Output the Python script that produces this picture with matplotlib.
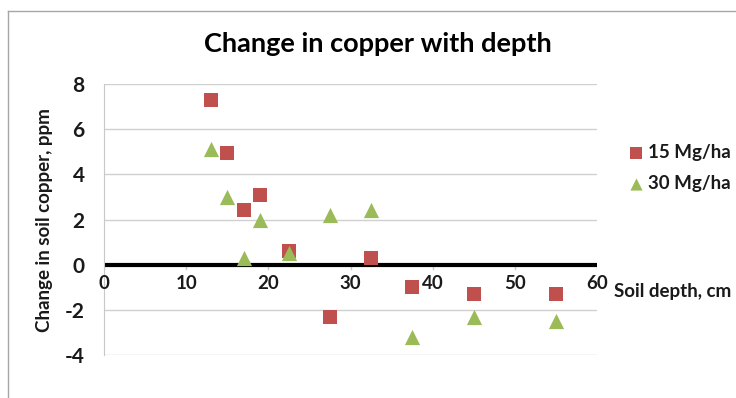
import matplotlib
matplotlib.use("Agg")
import matplotlib.pyplot as plt
from matplotlib.lines import Line2D

depth_15 = [13, 15, 17, 19, 22.5, 27.5, 32.5, 37.5, 45, 55]
cu_15 = [7.3, 4.95, 2.4, 3.1, 0.6, -2.3, 0.3, -1.0, -1.3, -1.3]
depth_30 = [13, 15, 17, 19, 22.5, 27.5, 32.5, 37.5, 45, 55]
cu_30 = [5.1, 3.0, 0.3, 2.0, 0.5, 2.2, 2.4, -3.2, -2.3, -2.5]
x_ticks = [0, 10, 20, 30, 40, 50, 60]
y_ticks = [-4, -2, 0, 2, 4, 6, 8]

plt.rcParams['font.family'] = ['Lato', 'DejaVu Sans']
plt.rcParams['font.weight'] = 'bold'
plt.rcParams['axes.unicode_minus'] = False

W, H = 736, 398
fig = plt.figure(figsize=(W / 100, H / 100), dpi=100)
ax = fig.add_axes([104 / W, 1 - 355 / H, (597 - 104) / W, (355 - 84) / H])

# chart frame
fig.add_artist(Line2D([8 / W, 8 / W], [0, 1 - 11 / H], color='#a6a6a6', lw=1))
fig.add_artist(Line2D([8 / W, 1], [1 - 11 / H, 1 - 11 / H], color='#a6a6a6', lw=1))

ax.set_xlim(0, 60)
ax.set_ylim(-4, 8)
ax.set_yticks(y_ticks)
ax.set_xticks(x_ticks)
ax.grid(axis='y', color='#d0d0d0', lw=1)
ax.set_axisbelow(True)

for s in ['top', 'right', 'bottom']:
    ax.spines[s].set_visible(False)
ax.spines['left'].set_color('#c8c8c8')
ax.axhline(0, color='black', lw=3, zorder=2)

ax.tick_params(axis='y', length=0, pad=14, labelsize=15, labelcolor='#1a1a1a')
ax.tick_params(axis='x', length=0, labelbottom=False)
for xv in x_ticks:
    ax.text(xv, -0.85, str(xv), ha='center', va='center', fontsize=13.5,
            fontweight='bold', color='#1a1a1a')
    ax.plot([xv, xv], [0, -0.2], color='#c8c8c8', lw=1, zorder=1)

ax.scatter(depth_15, cu_15, marker='s', s=110, color='#C0504D', zorder=3,
           label='15 Mg/ha', linewidths=0)
ax.scatter(depth_30, cu_30, marker='^', s=120, color='#9BBB59', zorder=3,
           label='30 Mg/ha', linewidths=0)

fig.text(378 / W, 1 - 44 / H, 'Change in copper with depth', ha='center',
         va='center', fontsize=19.5, fontweight='bold', color='black')
fig.text(45 / W, 1 - 220 / H, 'Change in soil copper, ppm', rotation=90,
         ha='center', va='center', fontsize=13.5, fontweight='bold', color='#1a1a1a')
fig.text(614 / W, 1 - 292 / H, 'Soil depth, cm', ha='left', va='center',
         fontsize=13.5, fontweight='bold', color='#1a1a1a')

leg = ax.legend(loc='center left', bbox_to_anchor=(610 / W, 1 - 168 / H),
                bbox_transform=fig.transFigure, frameon=False, fontsize=13.5,
                handletextpad=0.1, labelspacing=0.75, markerscale=0.8,
                handlelength=1.0)
for t in leg.get_texts():
    t.set_color('#1a1a1a')

fig.savefig('out.png', dpi=100)
